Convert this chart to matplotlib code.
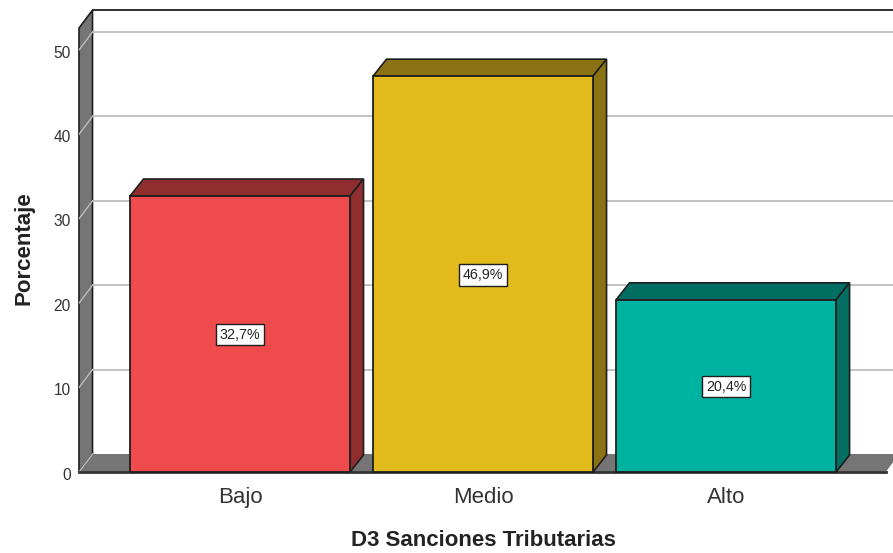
import matplotlib
matplotlib.use("Agg")
import matplotlib.pyplot as plt
from matplotlib.transforms import ScaledTranslation

categorias = ["Bajo", "Medio", "Alto"]
porcentajes = [32.7, 46.9, 20.4]
etiquetas = ["32,7%", "46,9%", "20,4%"]
marcas_y = [0, 10, 20, 30, 40, 50]

colores = ["#EF4B4C", "#E1BA1C", "#00B3A0"]
colores_oscuros = ["#8F2D2F", "#8B7315", "#006F62"]
GRIS = "#757575"
BORDE = "#1E1E1E"

plt.rcParams["font.family"] = ["Liberation Sans", "DejaVu Sans"]

W, H = 893, 553
fig = plt.figure(figsize=(W / 100, H / 100), dpi=100)
ax = fig.add_axes([79 / W, 1 - 472 / H, 814 / W, 462 / H])

# limites: una categoria = 243 px, 10 unidades = 84.4 px
ax.set_xlim(-0.6626, 2.687)
ax.set_ylim(0, 54.74)
dx = 13.5 / 243   # profundidad 3D
dy = 18 / 8.44
dy_barra = 17 / 8.44
ancho = 220 / 243
x_izq = -0.6626
x_der = 2.657
y_top = 52.6

# paredes
ax.fill([x_izq, x_izq + dx, x_izq + dx, x_izq],
        [0, dy, y_top + dy, y_top], color=GRIS, ec=BORDE, lw=1.2, zorder=1, clip_on=False)
ax.fill([x_izq, x_izq + dx, x_der + dx, x_der],
        [0, dy, dy, 0], color=GRIS, ec="none", zorder=1)

# lineas de cuadricula
for v in marcas_y:
    ax.plot([x_izq, x_izq + dx], [v, v + dy], color="#BDBDBD", lw=1, zorder=2)
    if v > 0:
        ax.plot([x_izq + dx, x_der + dx], [v + dy, v + dy], color="#BDBDBD", lw=1.3, zorder=1.5)
ax.plot([x_izq + dx, 2.687], [y_top + dy] * 2, color=BORDE, lw=1.3, zorder=2, clip_on=False)
ax.plot([x_izq, x_der], [0, 0], color="#333333", lw=2, zorder=3, clip_on=False)

# barras
for i, v in enumerate(porcentajes):
    izq = i - ancho / 2
    der = i + ancho / 2
    ax.fill([izq, izq + dx, der + dx, der], [v, v + dy_barra, v + dy_barra, v],
            facecolor=colores_oscuros[i], edgecolor=BORDE, lw=1.2, zorder=4)
    ax.fill([der, der + dx, der + dx, der], [0, dy_barra, v + dy_barra, v],
            facecolor=colores_oscuros[i], edgecolor=BORDE, lw=1.2, zorder=4)
ax.bar(range(3), porcentajes, width=ancho, color=colores, edgecolor=BORDE, linewidth=1.3, zorder=5, clip_on=False)

for i, v in enumerate(porcentajes):
    ax.text(i, v / 2 - 0.1, etiquetas[i], ha="center", va="center", fontsize=10.3, color="#222222", zorder=6,
            bbox=dict(facecolor="white", edgecolor=BORDE, linewidth=1, boxstyle="square,pad=0.25"))

for s in ax.spines.values():
    s.set_visible(False)
ax.patch.set_visible(False)

ax.set_xticks(range(3))
ax.set_xticklabels(categorias, fontsize=16, color="#333333")
ax.set_yticks(marcas_y)
ax.set_yticklabels(marcas_y, fontsize=11.2, color="#333333")
ax.tick_params(axis="x", length=0, pad=11)
ax.tick_params(axis="y", length=0, pad=6)

# los numeros del eje y quedan un poco mas abajo en el original
bajar = ScaledTranslation(0, -1.5 / 100, fig.dpi_scale_trans)
for t in ax.get_yticklabels():
    t.set_transform(t.get_transform() + bajar)

ax.set_xlabel("D3 Sanciones Tributarias", fontsize=16, fontweight="bold", color="#222222")
ax.set_ylabel("Porcentaje", fontsize=16, fontweight="bold", color="#222222")
ax.xaxis.set_label_coords((483 - 79) / 814, -(541 - 472) / 462, ax.transAxes)
ax.yaxis.set_label_coords((24 - 79) / 814, (472 - 248) / 462, ax.transAxes)
ax.xaxis.label.set_va("center")
ax.yaxis.label.set_va("center")

fig.savefig("out.png", dpi=100)
